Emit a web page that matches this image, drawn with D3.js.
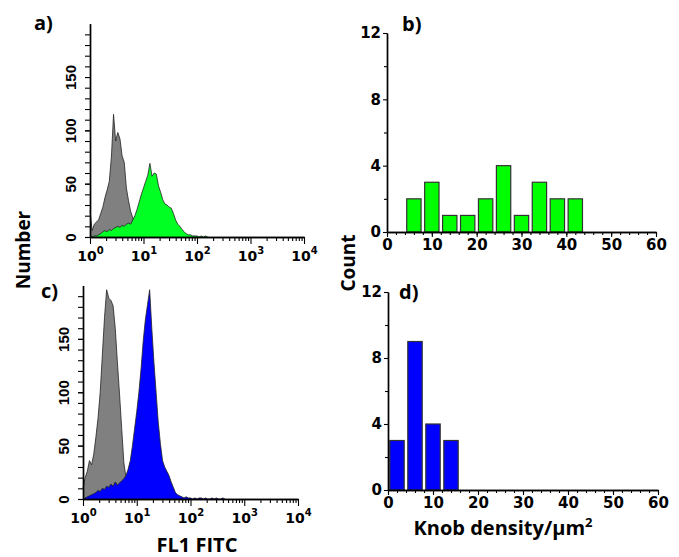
<!DOCTYPE html>
<html>
<head>
  <title>Flow cytometry and knob density</title>
  <script src="https://d3js.org/d3.v7.min.js"></script>
  <style>
    body { margin: 0; background: #fff; }
    .tick text { font-family: "DejaVu Sans", sans-serif; font-weight: bold; }
    .tick text.rot { font-family: "Liberation Sans", Arial, sans-serif; }
    .lbl { font-family: "Open Sans", sans-serif; font-weight: bold; fill: #000; }
  </style>
</head>
<body>
  <svg id="chart"></svg>
  <script>
    // histogram channels are spaced evenly in log10, starting at 10^0
    const logStep = 0.04;
    const flowDecades = [0, 1, 2, 3, 4];
    const flowYMajor = [0, 50, 100, 150];

    // panel a: unstained control (grey) and stained cells (green)
    const flowA_control = [25, 6, 12, 14, 16, 22, 28, 37, 44, 52, 75, 115, 90, 98, 92, 76, 70, 46, 34, 24, 18, 8, 4, 2, 1, 0];
    const flowA_stained = [0, 0, 1, 1, 2, 3, 5, 6, 5, 7, 6, 8, 9, 10, 9, 11, 10, 12, 13, 12, 16, 20, 26, 33, 40, 46, 52, 58, 69, 57, 60, 59, 48, 42, 35, 31, 30, 28, 27, 22, 16, 12, 10, 7, 5, 3, 2, 2, 1, 1, 1, 0, 1, 0, 1, 0];

    // panel c: unstained control (grey) and stained cells (blue)
    const flowC_control = [10, 20, 26, 36, 32, 42, 58, 76, 100, 135, 170, 196, 188, 186, 181, 160, 128, 98, 66, 34, 20, 10, 5, 2, 1, 0];
    const flowC_stained = [0, 1, 2, 3, 4, 5, 6, 8, 7, 10, 9, 12, 11, 14, 12, 16, 13, 15, 17, 19, 22, 28, 36, 50, 66, 82, 100, 122, 148, 168, 182, 196, 160, 128, 100, 72, 52, 36, 30, 26, 22, 16, 11, 6, 4, 3, 2, 1, 2, 1, 1, 0, 1, 0, 1, 1, 0, 1, 0, 0, 1, 0, 1, 0, 0, 1, 0];

    // panels b and d: knob density histograms
    const countXTicks = [0, 10, 20, 30, 40, 50, 60];
    const countYTicks = [0, 4, 8, 12];
    const knobBinsB = [6, 10, 14, 18, 22, 26, 30, 34, 38, 42];
    const knobCountsB = [2, 3, 1, 1, 2, 4, 1, 3, 2, 2];
    const knobBinsD = [2, 6, 10, 14];
    const knobCountsD = [3, 9, 4, 3];

    const svg = d3.select("#chart").attr("width", 679).attr("height", 557);

    function styleAxis(g) {
      g.select(".domain").attr("stroke", "#000").attr("stroke-width", 1.4);
      g.selectAll(".tick line").attr("stroke", "#000").attr("stroke-width", 1.1);
    }

    function drawFlow(xr, yr, control, stained, fill) {
      const x = d3.scaleLog().domain([1, 1e4]).range(xr);
      const y = d3.scaleLinear().domain([0, 200]).range(yr);
      const g = svg.append("g");

      const area = d3.area()
        .x((d, i) => x(Math.pow(10, i * logStep)))
        .y0(y(0))
        .y1(d => y(d));
      const line = d3.line()
        .x((d, i) => x(Math.pow(10, i * logStep)))
        .y(d => y(d));

      [[control, "#808080"], [stained, fill]].forEach(([data, c]) => {
        g.append("path").attr("d", area(data)).attr("fill", c);
        g.append("path").attr("d", line(data)).attr("fill", "none")
          .attr("stroke", "#222").attr("stroke-width", 0.8);
      });

      // x axis, log decades with minor ticks
      const minor = [];
      for (let d = 0; d < 4; d++) for (let k = 2; k < 10; k++) minor.push(k * Math.pow(10, d));
      g.append("g").attr("transform", `translate(0,${yr[0]})`)
        .call(d3.axisBottom(x).tickValues(minor).tickSize(4).tickSizeOuter(0).tickFormat(""))
        .call(styleAxis);
      const xa = g.append("g").attr("transform", `translate(0,${yr[0]})`)
        .call(d3.axisBottom(x).tickValues(flowDecades.map(d => Math.pow(10, d))).tickSize(7).tickSizeOuter(0).tickFormat(""))
        .call(styleAxis);
      xa.selectAll(".tick").each(function(d, i) {
        const t = d3.select(this).select("text")
          .attr("y", 14).attr("dy", "0.71em").attr("fill", "#000")
          .attr("font-size", 14);
        t.append("tspan").text("10");
        t.append("tspan").text(flowDecades[i]).attr("font-size", 10).attr("dy", "-0.7em");
      });

      // y axis
      const minorY = d3.range(0, 200, 10);
      g.append("g").attr("transform", `translate(${xr[0]},0)`)
        .call(d3.axisLeft(y).tickValues(minorY).tickSize(5).tickSizeOuter(0).tickFormat(""))
        .call(styleAxis);
      const ya = g.append("g").attr("transform", `translate(${xr[0]},0)`)
        .call(d3.axisLeft(y).tickValues(flowYMajor).tickSize(5).tickSizeOuter(0))
        .call(styleAxis);
      ya.selectAll(".tick text")
        .attr("class", "rot")
        .attr("font-size", 15).attr("fill", "#000")
        .attr("x", 0).attr("dy", 0)
        .attr("text-anchor", "middle")
        .attr("transform", "translate(-14,0) rotate(-90)");
    }

    function drawCounts(xr, yr, bins, counts, fill) {
      const x = d3.scaleLinear().domain([0, 60]).range(xr);
      const y = d3.scaleLinear().domain([0, 12]).range(yr);
      const g = svg.append("g");

      g.selectAll("rect").data(bins).enter().append("rect")
        .attr("x", d => x(d - 1.6))
        .attr("width", d => x(d + 1.6) - x(d - 1.6))
        .attr("y", (d, i) => y(counts[i]))
        .attr("height", (d, i) => y(0) - y(counts[i]))
        .attr("fill", fill).attr("stroke", "#333").attr("stroke-width", 1.2);

      g.append("g").attr("transform", `translate(0,${yr[0]})`)
        .call(d3.axisBottom(x).tickValues(d3.range(0, 61, 2)).tickSize(3).tickSizeOuter(0).tickFormat(""))
        .call(styleAxis);
      g.append("g").attr("transform", `translate(0,${yr[0]})`)
        .call(d3.axisBottom(x).tickValues(countXTicks).tickSize(5).tickSizeOuter(0))
        .call(styleAxis)
        .selectAll(".tick text").attr("font-size", 15).attr("fill", "#000").attr("y", 7);

      g.append("g").attr("transform", `translate(${xr[0]},0)`)
        .call(d3.axisLeft(y).tickValues([2, 6, 10]).tickSize(3).tickSizeOuter(0).tickFormat(""))
        .call(styleAxis);
      g.append("g").attr("transform", `translate(${xr[0]},0)`)
        .call(d3.axisLeft(y).tickValues(countYTicks).tickSize(4).tickSizeOuter(0))
        .call(styleAxis)
        .selectAll(".tick text").attr("font-size", 15).attr("fill", "#000").attr("x", -6);
    }

    drawFlow([90, 304], [237, 23.7], flowA_control, flowA_stained, "#00ff22");
    drawFlow([83, 298], [499, 285.5], flowC_control, flowC_stained, "#0000ff");
    drawCounts([387, 656], [232, 33], knobBinsB, knobCountsB, "#00ff00");
    drawCounts([388, 658], [490, 292], knobBinsD, knobCountsD, "#0000ff");

    // panel letters and axis titles
    const labels = [
      ["a)", 34, 30], ["b)", 402, 31], ["c)", 41, 298], ["d)", 399, 299]
    ];
    labels.forEach(([t, lx, ly]) => {
      svg.append("text").attr("class", "lbl").attr("x", lx).attr("y", ly)
        .attr("font-size", 20).text(t);
    });
    svg.append("text").attr("class", "lbl").attr("font-size", 19)
      .attr("text-anchor", "middle")
      .attr("transform", "translate(30,250) rotate(-90)").text("Number");
    svg.append("text").attr("class", "lbl").attr("font-size", 19)
      .attr("text-anchor", "middle")
      .attr("transform", "translate(355,263) rotate(-90)").text("Count");
    svg.append("text").attr("class", "lbl").attr("font-size", 20)
      .attr("text-anchor", "middle").attr("x", 197).attr("y", 552).text("FL1 FITC");
    const kd = svg.append("text").attr("class", "lbl").attr("font-size", 20)
      .attr("text-anchor", "middle").attr("x", 503).attr("y", 535);
    kd.append("tspan").text("Knob density/µm");
    kd.append("tspan").text("2").attr("font-size", 13).attr("dy", "-0.6em");
  </script>
</body>
</html>
